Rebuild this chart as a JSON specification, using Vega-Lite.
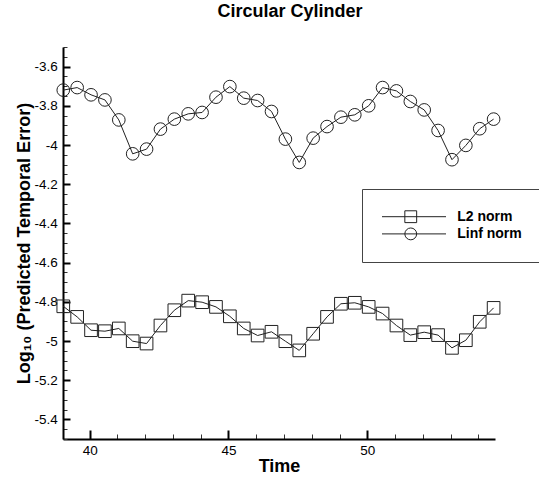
{
  "$schema": "https://vega.github.io/schema/vega-lite/v6.json",
  "width": 432,
  "height": 392,
  "autosize": {"type": "none"},
  "padding": {"left": 63, "top": 47, "right": 44, "bottom": 41},
  "background": "white",
  "title": {
    "text": "Circular Cylinder",
    "font": "Liberation Sans",
    "fontSize": 18,
    "fontWeight": "bold",
    "color": "black",
    "anchor": "middle",
    "frame": "group",
    "baseline": "alphabetic",
    "offset": 12,
    "dx": 11
  },
  "data": {
    "values": [
      {"t": 39.05, "L2 norm": -4.823, "Linf norm": -3.720},
      {"t": 39.55, "L2 norm": -4.877, "Linf norm": -3.707},
      {"t": 40.05, "L2 norm": -4.945, "Linf norm": -3.744},
      {"t": 40.55, "L2 norm": -4.950, "Linf norm": -3.770},
      {"t": 41.05, "L2 norm": -4.936, "Linf norm": -3.872},
      {"t": 41.55, "L2 norm": -5.001, "Linf norm": -4.045},
      {"t": 42.05, "L2 norm": -5.013, "Linf norm": -4.021},
      {"t": 42.55, "L2 norm": -4.921, "Linf norm": -3.919},
      {"t": 43.05, "L2 norm": -4.843, "Linf norm": -3.868},
      {"t": 43.55, "L2 norm": -4.794, "Linf norm": -3.841},
      {"t": 44.05, "L2 norm": -4.802, "Linf norm": -3.834},
      {"t": 44.55, "L2 norm": -4.826, "Linf norm": -3.756},
      {"t": 45.05, "L2 norm": -4.874, "Linf norm": -3.702},
      {"t": 45.55, "L2 norm": -4.936, "Linf norm": -3.761},
      {"t": 46.05, "L2 norm": -4.972, "Linf norm": -3.773},
      {"t": 46.55, "L2 norm": -4.953, "Linf norm": -3.829},
      {"t": 47.05, "L2 norm": -5.001, "Linf norm": -3.970},
      {"t": 47.55, "L2 norm": -5.048, "Linf norm": -4.089},
      {"t": 48.05, "L2 norm": -4.963, "Linf norm": -3.965},
      {"t": 48.55, "L2 norm": -4.877, "Linf norm": -3.906},
      {"t": 49.05, "L2 norm": -4.810, "Linf norm": -3.858},
      {"t": 49.55, "L2 norm": -4.805, "Linf norm": -3.846},
      {"t": 50.05, "L2 norm": -4.826, "Linf norm": -3.800},
      {"t": 50.55, "L2 norm": -4.860, "Linf norm": -3.707},
      {"t": 51.05, "L2 norm": -4.921, "Linf norm": -3.724},
      {"t": 51.55, "L2 norm": -4.970, "Linf norm": -3.778},
      {"t": 52.05, "L2 norm": -4.955, "Linf norm": -3.821},
      {"t": 52.55, "L2 norm": -4.970, "Linf norm": -3.926},
      {"t": 53.05, "L2 norm": -5.035, "Linf norm": -4.075},
      {"t": 53.55, "L2 norm": -4.996, "Linf norm": -4.002},
      {"t": 54.05, "L2 norm": -4.902, "Linf norm": -3.917},
      {"t": 54.55, "L2 norm": -4.831, "Linf norm": -3.868}
    ]
  },
  "layer": [
    {
      "transform": [{"fold": ["L2 norm", "Linf norm"], "as": ["norm", "v"]}],
      "mark": {"type": "line", "stroke": "#222", "strokeWidth": 1},
      "encoding": {
        "x": {
          "field": "t", "type": "quantitative",
          "scale": {"domain": [39.04, 54.6], "nice": false, "zero": false},
          "axis": {
            "orient": "bottom", "values": [41, 42, 43, 44, 46, 47, 48, 49, 51, 52, 53, 54],
            "labels": false, "domain": false, "grid": false, "title": null,
            "tickSize": -5, "tickWidth": 1, "tickColor": "#333"
          }
        },
        "y": {
          "field": "v", "type": "quantitative",
          "scale": {"domain": [-5.5, -3.5], "nice": false, "zero": false},
          "axis": {
            "orient": "left",
            "values": [-5.5, -5.45, -5.35, -5.3, -5.25, -5.15, -5.1, -5.05, -4.95, -4.9, -4.85, -4.75, -4.7, -4.65, -4.55, -4.5, -4.45, -4.35, -4.3, -4.25, -4.15, -4.1, -4.05, -3.95, -3.9, -3.85, -3.75, -3.7, -3.65, -3.55, -3.5],
            "labels": false, "domain": false, "grid": false, "title": null,
            "tickSize": -4, "tickWidth": 1, "tickColor": "#333"
          }
        },
        "color": {
          "field": "norm", "type": "nominal",
          "scale": {"range": ["#222", "#222"]},
          "legend": {
            "orient": "none", "legendX": 299, "legendY": 142, "direction": "vertical",
            "title": null, "padding": 20, "strokeColor": "#444",
            "symbolType": "stroke", "symbolSize": 4900, "symbolStrokeWidth": 1,
            "clipHeight": 15.4, "rowPadding": 1.2, "symbolOffset": -6.5, "labelOffset": 10.7,
            "labelFont": "Liberation Sans", "labelFontSize": 14, "labelFontWeight": "bold", "labelColor": "black"
          }
        }
      }
    },
    {
      "transform": [{"fold": ["L2 norm", "Linf norm"], "as": ["marker", "v"]}],
      "mark": {"type": "point", "filled": false, "stroke": "#222", "strokeWidth": 1, "size": 160, "opacity": 1},
      "encoding": {
        "x": {
          "field": "t", "type": "quantitative",
          "scale": {"domain": [39.04, 54.6], "nice": false, "zero": false},
          "axis": {
            "orient": "bottom", "values": [40, 45, 50], "grid": false,
            "tickSize": -9, "tickWidth": 2, "tickColor": "black",
            "domainWidth": 2, "domainColor": "black",
            "labelFont": "Liberation Sans", "labelFontSize": 13.5, "labelColor": "black", "labelPadding": 13,
            "title": "Time", "titleFont": "Liberation Sans", "titleFontSize": 18, "titleFontWeight": "bold", "titleColor": "black", "titlePadding": 1
          }
        },
        "y": {
          "field": "v", "type": "quantitative",
          "scale": {"domain": [-5.5, -3.5], "nice": false, "zero": false},
          "axis": {
            "orient": "left", "values": [-5.4, -5.2, -5, -4.8, -4.6, -4.4, -4.2, -4, -3.8, -3.6], "grid": false,
            "labelExpr": "'' + datum.value",
            "tickSize": -7, "tickWidth": 2, "tickColor": "black",
            "domainWidth": 2, "domainColor": "black",
            "labelFont": "Liberation Sans", "labelFontSize": 13.5, "labelColor": "black", "labelPadding": 12.7,
            "title": "Log₁₀ (Predicted Temporal Error)\u00a0\u00a0\u00a0\u00a0", "titleFont": "Liberation Sans", "titleFontSize": 18, "titleFontWeight": "bold", "titleColor": "black", "titlePadding": 1
          }
        },
        "shape": {
          "field": "marker", "type": "nominal",
          "scale": {"range": ["square", "circle"]},
          "legend": {
            "orient": "none", "legendX": 341, "legendY": 162, "direction": "vertical",
            "title": null, "padding": 0,
            "symbolSize": 140, "symbolStrokeWidth": 1, "symbolStrokeColor": "#222", "symbolFillColor": "transparent",
            "clipHeight": 15.4, "rowPadding": 1.2,
            "labelExpr": "''", "labelFontSize": 13.5
          }
        }
      }
    }
  ],
  "resolve": {"axis": {"x": "independent", "y": "independent"}},
  "config": {"view": {"stroke": null}}
}
